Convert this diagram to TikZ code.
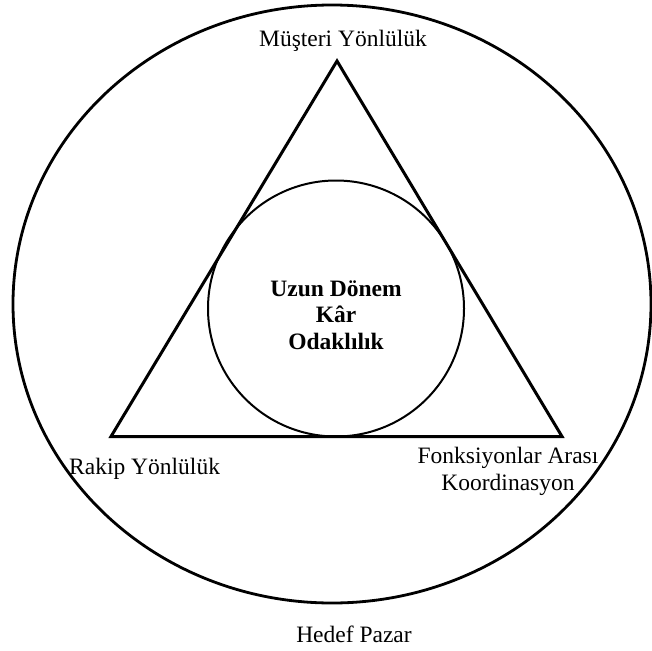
\documentclass[tikz,border=0pt]{standalone}
\usepackage{fontspec}
\setmainfont{Liberation Serif}
\begin{document}
\begin{tikzpicture}[x=1pt,y=-1pt,
  lbl/.style={inner sep=0pt, font=\fontsize{23.5}{27}\selectfont},
  boldlbl/.style={inner sep=0pt, align=center, font=\fontsize{23.5}{26.5}\selectfont\bfseries},
  outerline/.style={draw=black, line width=2.8pt},
  triline/.style={draw=black, line width=3pt, line join=miter},
  innerline/.style={draw=black, line width=2pt}]
\useasboundingbox (0,0) rectangle (652,650);
\fill[white] (0,0) rectangle (652,650);
% outer target market
\draw[outerline] (332,304) ellipse [x radius=319, y radius=299];
% triangle
\coordinate (top) at (337,61);
\coordinate (bl) at (111,436.5);
\coordinate (br) at (562,436.5);
\draw[triline] (top) -- (bl) -- (br) -- cycle;
% inner circle
\draw[innerline] (336,308.5) circle [radius=128];
% labels
\node[lbl, anchor=base] (must) at (343,47) {Müşteri Yönlülük};
\node[lbl, anchor=base west] (rakip) at (69,474) {Rakip Yönlülük};
\node[lbl, align=center] (fonk) at (508,471) {Fonksiyonlar Arası\\Koordinasyon};
\node[lbl, anchor=base] (hedef) at (354,642) {Hedef Pazar};
\node[boldlbl] (uzun) at (336,315) {Uzun Dönem\\Kâr\\Odaklılık};
\end{tikzpicture}
\end{document}
